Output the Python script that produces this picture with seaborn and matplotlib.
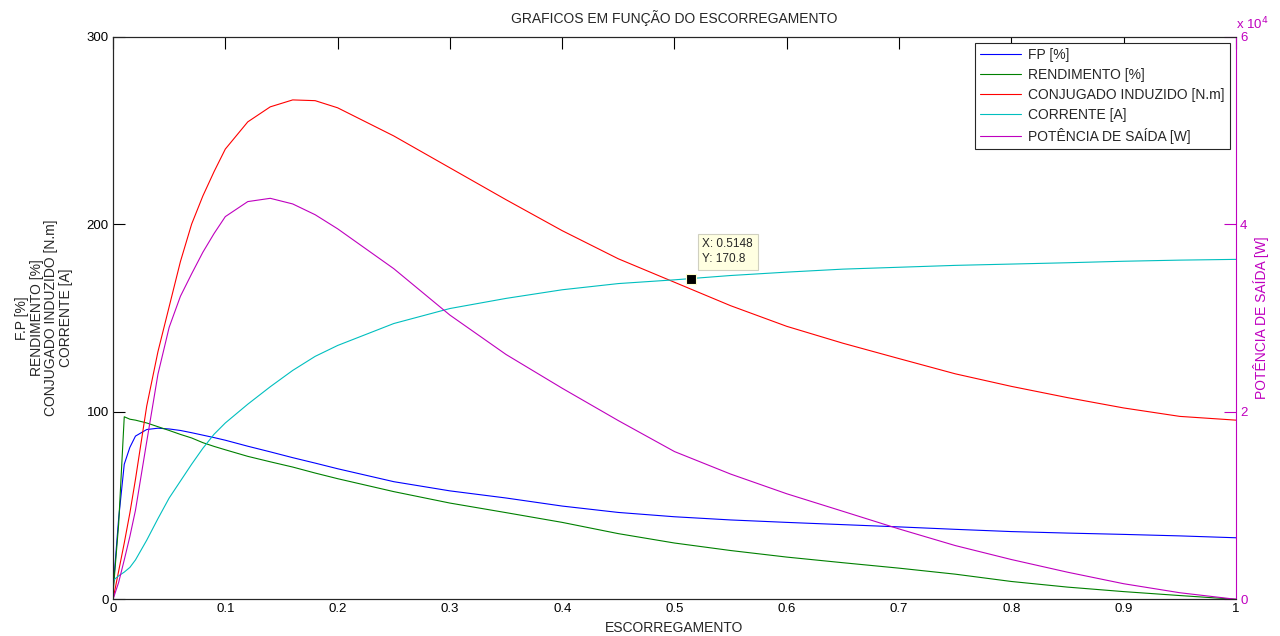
import numpy as np
import pandas as pd
import seaborn as sns
import matplotlib
matplotlib.use('Agg')
import matplotlib.pyplot as plt

# slip values (x axis) shared by every curve
slip = [0, 0.005, 0.01, 0.015, 0.02, 0.03, 0.04, 0.05, 0.06, 0.07, 0.08, 0.09,
        0.1, 0.12, 0.14, 0.16, 0.18, 0.2, 0.25, 0.3, 0.35, 0.4, 0.45, 0.5,
        0.55, 0.6, 0.65, 0.7, 0.75, 0.8, 0.85, 0.9, 0.95, 1.0]

fp = [5, 43, 72, 81, 87, 90.5, 91.2, 90.8, 90, 88.8, 87.5, 86.2,
      84.8, 81.6, 78.6, 75.5, 72.6, 69.6, 62.7, 57.8, 54, 49.7, 46.3, 44,
      42.3, 41, 39.8, 38.6, 37.3, 36.1, 35.3, 34.6, 33.8, 32.8]

rendimento = [3, 40, 97.3, 96, 95.5, 94, 92, 90, 87.9, 86, 83.5, 81.5,
              79.7, 76.2, 73.3, 70.5, 67.3, 64.3, 57.4, 51.3, 46.2, 41, 35, 30,
              26, 22.5, 19.5, 16.6, 13.4, 9.5, 6.5, 4.1, 2, 0]

conjugado = [0, 15, 30, 46, 64, 103, 132, 156, 180, 200, 215, 228,
             240, 254.5, 262.5, 266.2, 265.8, 262, 247, 230, 213, 196.5, 181.5, 169,
             156.5, 145.5, 136.5, 128.3, 120.2, 113.5, 107.5, 102, 97.5, 95.5]

corrente = [10, 12.5, 14.5, 17, 21, 31.5, 43, 54, 63, 72, 80.5, 88,
            94, 104, 113.3, 122, 129.5, 135.3, 147, 155, 160.4, 165, 168.3, 170.3,
            172.6, 174.4, 176, 177, 178, 178.7, 179.4, 180.2, 180.8, 181.2]

potencia = [0, 1800, 4200, 6700, 9500, 16800, 24000, 29000, 32300, 34700, 37000, 39000,
            40800, 42400, 42750, 42150, 41000, 39500, 35250, 30300, 26100, 22500, 19050, 15750,
            13350, 11250, 9380, 7500, 5730, 4240, 2890, 1660, 700, 0]

tip_x = 0.5148
tip_y = 170.8

df = pd.DataFrame({'s': slip, 'fp': fp, 'rend': rendimento, 'conj': conjugado,
                   'corr': corrente, 'pot': potencia})

sns.set_style('white')
plt.rcParams['font.family'] = ['Liberation Sans', 'DejaVu Sans']
plt.rcParams['font.size'] = 10

magenta = '#bf00bf'

fig = plt.figure(figsize=(12.8, 6.36), dpi=100)
ax = fig.add_axes([0.0883, 0.0577, 0.8773, 0.8849])
ax2 = ax.twinx()

lw = 0.8
sns.lineplot(data=df, x='s', y='fp', ax=ax, color='#0000ff', lw=lw, label='FP [%]', legend=False)
sns.lineplot(data=df, x='s', y='rend', ax=ax, color='#008000', lw=lw, label='RENDIMENTO [%]', legend=False)
sns.lineplot(data=df, x='s', y='conj', ax=ax, color='#ff0000', lw=lw, label='CONJUGADO INDUZIDO [N.m]', legend=False)
sns.lineplot(data=df, x='s', y='corr', ax=ax, color='#00bfbf', lw=lw, label='CORRENTE [A]', legend=False)
sns.lineplot(data=df, x='s', y='pot', ax=ax2, color=magenta, lw=lw, label='POTÊNCIA DE SAÍDA [W]', legend=False)

ax.set_xlim(0, 1)
ax.set_ylim(0, 300)
ax2.set_ylim(0, 60000)
ax.set_xticks(np.arange(0, 1.01, 0.1))
ax.set_xticklabels(['0', '0.1', '0.2', '0.3', '0.4', '0.5', '0.6', '0.7', '0.8', '0.9', '1'])
ax.set_yticks([0, 100, 200, 300])
ax2.set_yticks([0, 20000, 40000, 60000])
ax2.set_yticklabels(['0', '2', '4', '6'])

ax.tick_params(axis='both', direction='in', length=8.6, width=0.8, labelsize=9.5, pad=3,
               top=True, right=False, colors='black')
ax2.tick_params(axis='y', direction='in', length=8.6, width=0.8, labelsize=9.5, pad=3,
                colors=magenta)

for a in (ax, ax2):
    for sp in a.spines.values():
        sp.set_linewidth(0.8)
        sp.set_color('#262626')
ax2.spines['right'].set_color(magenta)
ax.spines['right'].set_visible(False)

ax.set_xlabel('ESCORREGAMENTO', fontsize=10, labelpad=4)
ax.set_ylabel('F.P [%]\nRENDIMENTO [%]\nCONJUGADO INDUZIDO [N.m]\nCORRENTE [A]',
              fontsize=10, labelpad=10, multialignment='center', linespacing=1.05)
ax2.set_ylabel('POTÊNCIA DE SAÍDA [W]', fontsize=10, color=magenta, labelpad=4)
ax.set_title('GRAFICOS EM FUNÇÃO DO ESCORREGAMENTO', fontsize=10, pad=10)
ax2.text(1.0, 1.008, r'x 10$^4$', transform=ax2.transAxes, color=magenta,
         fontsize=9.5, ha='left', va='bottom')

# data tip
ax.plot([tip_x], [tip_y], marker='s', ms=6.5, color='black', mec='#ffffcc', mew=0.8, zorder=6)
ax.annotate('X: %.4f\nY: %.1f' % (tip_x, tip_y), xy=(tip_x, tip_y), xytext=(8, 10),
            textcoords='offset points', fontsize=8.5, va='bottom', ha='left',
            linespacing=1.3,
            bbox=dict(boxstyle='square,pad=0.4', fc='#ffffe1', ec='#d0d0c0', lw=0.8),
            zorder=7)

h1, l1 = ax.get_legend_handles_labels()
h2, l2 = ax2.get_legend_handles_labels()
leg = ax2.legend(h1 + h2, l1 + l2, loc='upper right', fontsize=10, frameon=True,
                 fancybox=False, edgecolor='#262626', framealpha=1,
                 handlelength=2.9, handletextpad=0.5, labelspacing=0.42,
                 borderaxespad=0.45)
leg.get_frame().set_linewidth(0.8)

fig.savefig('out.png', dpi=100)
